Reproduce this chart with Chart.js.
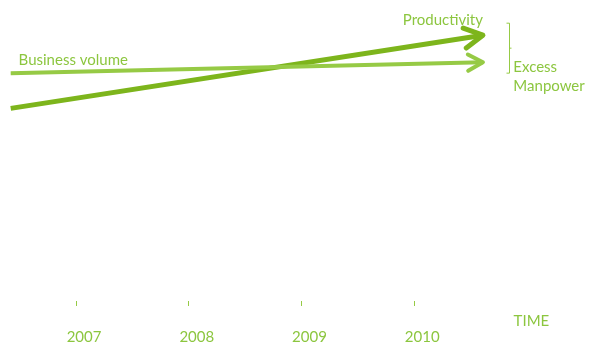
<!DOCTYPE html>
<html>
<head>
<meta charset="utf-8">
<script src="https://cdn.jsdelivr.net/npm/chart.js@4.4.1/dist/chart.umd.min.js"></script>
<style>
  html, body { margin: 0; padding: 0; background: #fff; }
  #myChart { display: block; }
</style>
</head>
<body>
<canvas id="myChart" width="590" height="343"></canvas>
<script>
// time axis
const years = [2007, 2008, 2009, 2010];
const yearLabels = ["2007", "2008", "2009", "2010"];

// the two trend lines (start / end of each arrow)
const lineX = [2006.42, 2010.61];
const businessVolume = [75.7, 79.3];
const productivity = [64, 88.3];

const green = "#8cc63f";
const darkGreen = "#7db51c";
const lightGreen = "#96ca45";
const font = "Lato, 'Open Sans', sans-serif";

const chartDOM = document.querySelector("#myChart");

// open arrowheads at the end of every line
const arrowPlugin = {
    id: "arrows",
    afterDatasetsDraw(chart) {
        const ctx = chart.ctx;
        chart.data.datasets.forEach((ds, i) => {
            const pts = chart.getDatasetMeta(i).data;
            const a = pts[pts.length - 2];
            const b = pts[pts.length - 1];
            const ang = Math.atan2(b.y - a.y, b.x - a.x);
            const len = ds.arrowSize;
            ctx.save();
            ctx.strokeStyle = ds.borderColor;
            ctx.lineWidth = ds.borderWidth;
            ctx.lineCap = "round";
            ctx.lineJoin = "round";
            ctx.beginPath();
            ctx.moveTo(b.x - len * Math.cos(ang - 0.5), b.y - len * Math.sin(ang - 0.5));
            ctx.lineTo(b.x, b.y);
            ctx.lineTo(b.x - len * Math.cos(ang + 0.5), b.y - len * Math.sin(ang + 0.5));
            ctx.stroke();
            ctx.restore();
        });
    }
};

// labels, bracket and axis title
const notesPlugin = {
    id: "notes",
    afterDraw(chart) {
        const ctx = chart.ctx;
        const x = chart.scales.x;
        const y = chart.scales.y;
        const px = (v) => x.getPixelForValue(v);
        const py = (v) => y.getPixelForValue(v);
        ctx.save();
        ctx.fillStyle = green;
        ctx.font = "15px " + font;
        ctx.textBaseline = "middle";

        ctx.textAlign = "left";
        ctx.fillText("Business volume", px(2006.49), py(80));
        ctx.fillText("Excess", px(2010.88), py(77.7));
        ctx.fillText("Manpower", px(2010.88), py(71.3));

        ctx.textAlign = "right";
        ctx.fillText("Productivity", px(2010.61), py(93.3));

        ctx.textAlign = "center";
        ctx.fillText("TIME", px(2011.04), py(-6.7));

        // bracket between the two arrow tips
        const bx = Math.round(px(2010.843)) + 0.5;
        const top = py(92.3), bot = py(75.7), mid = py(84);
        ctx.strokeStyle = lightGreen;
        ctx.lineWidth = 1;
        ctx.beginPath();
        ctx.moveTo(bx - 3, top);
        ctx.lineTo(bx, top);
        ctx.lineTo(bx, bot);
        ctx.lineTo(bx - 3, bot);
        ctx.moveTo(bx, mid);
        ctx.lineTo(bx + 2, mid);
        ctx.stroke();
        ctx.restore();
    }
};

const data = {
    datasets: [
        {
            label: "Business volume",
            data: lineX.map((v, i) => ({ x: v, y: businessVolume[i] })),
            borderColor: lightGreen,
            borderWidth: 4,
            arrowSize: 17
        },
        {
            label: "Productivity",
            data: lineX.map((v, i) => ({ x: v, y: productivity[i] })),
            borderColor: darkGreen,
            borderWidth: 5,
            arrowSize: 21
        }
    ]
};

const config = {
    type: "line",
    data,
    options: {
        responsive: false,
        animation: false,
        layout: { padding: { top: 0, left: 0, right: 0, bottom: -25 } },
        elements: { point: { radius: 0 }, line: { borderCapStyle: "butt", tension: 0 } },
        plugins: { legend: { display: false }, tooltip: { enabled: false } },
        scales: {
            x: {
                type: "linear",
                min: 2006.325,
                max: 2011.56,
                afterBuildTicks: (scale) => {
                    scale.ticks = years.map((v) => ({ value: v }));
                },
                border: { display: false },
                grid: { drawOnChartArea: false, tickLength: 5, color: lightGreen, lineWidth: 1 },
                ticks: {
                    color: green,
                    font: { family: font, size: 15 },
                    padding: 22,
                    labelOffset: 8,
                    maxRotation: 0,
                    autoSkip: false,
                    callback: (v, i) => yearLabels[i]
                }
            },
            y: { display: false, min: 0, max: 100 }
        }
    },
    plugins: [arrowPlugin, notesPlugin]
};

new Chart(chartDOM, config);
</script>
</body>
</html>
